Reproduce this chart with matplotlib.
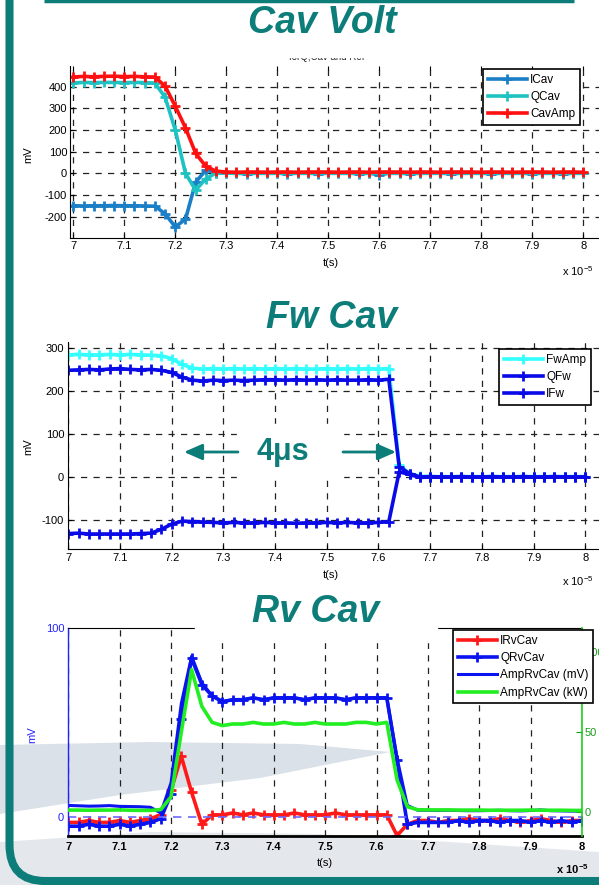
import matplotlib
matplotlib.use('Agg')
import matplotlib.pyplot as plt
from matplotlib.patches import Rectangle, Polygon, PathPatch
from matplotlib.path import Path

plt.rcParams['font.family'] = ['Liberation Sans', 'DejaVu Sans']
plt.rcParams['axes.unicode_minus'] = False
plt.rcParams['mathtext.fontset'] = 'custom'
plt.rcParams['mathtext.rm'] = 'Liberation Sans'
plt.rcParams['mathtext.bf'] = 'Liberation Sans:bold'

# time axis (x 1e-5 s)
t = [7.00, 7.02, 7.04, 7.06, 7.08, 7.10, 7.12, 7.14, 7.16, 7.18,
     7.20, 7.22, 7.24, 7.26, 7.28, 7.30, 7.32, 7.34, 7.36, 7.38,
     7.40, 7.42, 7.44, 7.46, 7.48, 7.50, 7.52, 7.54, 7.56, 7.58,
     7.60, 7.62, 7.64, 7.66, 7.68, 7.70, 7.72, 7.74, 7.76, 7.78,
     7.80, 7.82, 7.84, 7.86, 7.88, 7.90, 7.92, 7.94, 7.96, 7.98,
     8.00]

# Cav Volt
cav_amp = [445, 448, 446, 448, 449, 447, 448, 446, 445, 403,
           310, 210, 92, 32, 10, 6, 5, 6, 6, 5,
           6, 6, 5, 6, 6, 6, 5, 6, 6, 5,
           6, 6, 6, 5, 6, 6, 5, 6, 6, 6,
           5, 6, 6, 5, 6, 6, 6, 5, 6, 6,
           5]
q_cav = [418, 420, 419, 420, 420, 419, 420, 419, 417, 352,
         200, 0, -78, -25, 2, 1, 0, 1, 1, 0,
         1, 0, 1, 1, 0, 1, 1, 0, 1, 0,
         1, 1, 0, 1, 0, 1, 1, 0, 1, 1,
         0, 1, 1, 0, 1, 0, 1, 1, 0, 1,
         1]
i_cav = [-150, -151, -150, -150, -149, -150, -150, -151, -152, -187,
         -248, -212, -41, 15, 3, 1, 0, -1, 0, 0,
         0, -1, 0, 0, -1, 0, 0, 0, -1, 0,
         -6, 0, 0, -1, 0, 0, 0, -1, 0, 0,
         0, -1, 0, 0, 0, -1, 0, 0, -1, 0,
         0]

# Fw Cav
fw_amp = [285, 286, 285, 285, 286, 285, 286, 285, 284, 283,
          276, 263, 254, 252, 253, 252, 253, 252, 253, 252,
          253, 252, 253, 252, 252, 253, 252, 253, 252, 253,
          252, 253, 28, 8, 2, 1, 1, 1, 1, 1,
          1, 1, 1, 1, 1, 1, 1, 1, 1, 1,
          1]
q_fw = [249, 250, 251, 250, 252, 253, 251, 250, 251, 249,
        244, 233, 226, 224, 226, 225, 226, 225, 226, 227,
        227, 226, 227, 226, 227, 226, 227, 226, 226, 227,
        226, 228, 24, 8, 0, 1, 0, 0, 1, 0,
        0, 1, 0, 0, 1, 0, 0, 1, 0, 0,
        0]
i_fw = [-132, -131, -133, -133, -133, -133, -133, -132, -131, -122,
        -110, -103, -104, -105, -106, -107, -106, -107, -107, -106,
        -107, -107, -108, -107, -107, -106, -107, -106, -107, -107,
        -106, -104, 12, 6, -1, 0, 0, 0, 0, 0,
        0, 0, 0, 0, 0, 0, 0, 0, 0, 0,
        0]

# Rv Cav
i_rv = [-3, -3, -2, -3, -3, -2, -3, -2, -1, 1,
        14, 32, 13, -4, 1, 1, 2, 1, 2, 1,
        1, 1, 2, 1, 1, 1, 2, 1, 1, 1,
        1, 1, -10, -4, -2, -2, -3, -2, -2, -1,
        -2, -2, -1, -2, -3, -2, -1, -2, -3, -2,
        -2]
q_rv = [-5, -5, -4, -5, -5, -4, -5, -4, -3, -1,
        12, 52, 84, 70, 64, 61, 62, 62, 63, 62,
        63, 63, 63, 62, 63, 63, 63, 62, 63, 63,
        63, 63, 30, -4, -3, -3, -3, -3, -2, -3,
        -2, -2, -3, -2, -2, -3, -2, -3, -2, -3,
        -2]
amp_rv_mv = [6, 5.8, 5.6, 5.7, 5.9, 5.5, 5.4, 5.3, 5, 2,
             18, 60, 85, 71, 64, 61, 62, 62, 63, 62,
             63, 63, 63, 62, 63, 63, 63, 62, 63, 63,
             63, 63, 31, 6, 3.5, 3.4, 3.3, 3.4, 3.3, 3.2,
             3.2, 3.3, 3.4, 3.2, 3.1, 3.3, 3.6, 3.2, 3.1, 3.0,
             3.0]
amp_rv_kw = [1.2, 1.2, 1.1, 1.2, 1.2, 1.3, 1.1, 1.0, 1.0, 1.5,
             9.5, 50, 89, 66, 56, 54, 55, 55, 56, 55,
             55, 56, 55, 55, 56, 55, 55, 55, 56, 56,
             55, 56, 20, 3.3, 1.4, 1.3, 1.3, 1.3, 1.2, 1.2,
             1.2, 1.1, 1.1, 1.1, 1.1, 1.2, 1.1, 1.1, 1.1, 1.0,
             1.0]

xticks = [7, 7.1, 7.2, 7.3, 7.4, 7.5, 7.6, 7.7, 7.8, 7.9, 8]
xticklabels = ['7', '7.1', '7.2', '7.3', '7.4', '7.5', '7.6', '7.7', '7.8', '7.9', '8']

W, H = 599, 885
teal = '#0c7d78'
fig = plt.figure(figsize=(W / 100, H / 100), dpi=100)


def ax_at(l, t_, r, b, **kw):
    return fig.add_axes([l / W, 1 - b / H, (r - l) / W, (b - t_) / H], **kw)


def pix(ax):
    ax.set_xlim(0, W)
    ax.set_ylim(H, 0)
    ax.axis('off')


# background shading
bg = ax_at(0, 0, W, H, zorder=-5)
pix(bg)
bg.add_patch(Polygon([(0, 745), (150, 742), (300, 744), (390, 752), (260, 778),
                      (120, 795), (0, 814)], closed=True, color='#dbe1e8', lw=0))
bg.add_patch(Polygon([(0, 842), (150, 832), (320, 834), (450, 842), (599, 852),
                      (599, 885), (0, 885)], closed=True, color='#e4e8ed', lw=0))

grid_kw = dict(color='#222222', linestyle=(0, (5, 5)), linewidth=0.9)
lw = 2.6
leg_kw = dict(loc='upper left', bbox_transform=fig.transFigure, fontsize=8.5,
              fancybox=False, edgecolor='black', framealpha=1, borderaxespad=0,
              numpoints=1, handlelength=3.3, handletextpad=0.3, borderpad=0.4,
              labelspacing=0.45)


def style_axes(ax):
    ax.patch.set_alpha(0)
    ax.tick_params(direction='in', length=3, labelsize=8, pad=2)
    ax.grid(True, **grid_kw)


# ---------- Cav Volt ----------
ax1 = ax_at(70, 66, 599, 238)
style_axes(ax1)
ax1.plot(t, i_cav, '+-', color='#1a7fc6', lw=lw, ms=7, mew=2, label='ICav')
ax1.plot(t, q_cav, '+-', color='#1fc2c2', lw=lw, ms=7, mew=2, label='QCav')
ax1.plot(t, cav_amp, '+-', color='#ff1010', lw=lw, ms=7, mew=2, label='CavAmp')
ax1.set_xlim(6.9935, 8.031)
ax1.set_ylim(-299, 496)
ax1.set_xticks(xticks)
ax1.set_xticklabels(xticklabels)
ax1.set_yticks([-200, -100, 0, 100, 200, 300, 400])
ax1.spines['top'].set_visible(False)
ax1.spines['right'].set_visible(False)
ax1.tick_params(top=True)
leg = ax1.legend(bbox_to_anchor=(483 / W, 1 - 69 / H), **leg_kw)
leg.get_frame().set_linewidth(1.2)

# ---------- Fw Cav ----------
ax2 = ax_at(68.3, 342, 599, 549)
style_axes(ax2)
ax2.plot(t, fw_amp, '+-', color='#33ffff', lw=lw, ms=7, mew=2, label='FwAmp')
ax2.plot(t, q_fw, '+-', color='#0a0ae8', lw=lw, ms=7, mew=2, label='QFw')
ax2.plot(t, i_fw, '+-', color='#0a0ae8', lw=lw, ms=7, mew=2, label='IFw')
ax2.set_xlim(7.0, 8.0265)
ax2.set_ylim(-168, 315)
ax2.set_xticks(xticks)
ax2.set_xticklabels(xticklabels)
ax2.set_yticks([-100, 0, 100, 200, 300])
ax2.spines['top'].set_visible(False)
ax2.spines['right'].set_visible(False)
ax2.tick_params(pad=3)
leg = ax2.legend(bbox_to_anchor=(499 / W, 1 - 349 / H), **leg_kw)
leg.get_frame().set_linewidth(1.2)

# ---------- Rv Cav ----------
ax3 = ax_at(68.3, 628, 582, 836)
ax3.patch.set_alpha(0)
ax3.plot(t, i_rv, '+-', color='#ff1a1a', lw=lw, ms=7, mew=2, label='IRvCav')
ax3.plot(t, q_rv, '+-', color='#0a14f0', lw=lw, ms=7, mew=2, label='QRvCav')
ax3.plot(t, amp_rv_mv, '-', color='#0a14f0', lw=2.2, label='AmpRvCav (mV)')
ax3.axhline(0, color='#6a6aff', lw=1.2, linestyle=(0, (5, 4)))
ax3.set_xlim(7.0, 8.0)
ax3.set_ylim(-10.2, 100)
ax3.set_xticks(xticks)
ax3.set_xticklabels(xticklabels, fontweight='bold')
ax3.set_yticks([0, 100])
ax3.xaxis.grid(True, **grid_kw)
ax3.tick_params(axis='x', direction='in', length=0, labelsize=8, pad=4)
ax3.tick_params(axis='y', direction='in', length=0, labelsize=8, pad=3, colors='#2222ff')
ax3.spines['left'].set_color('#2222ff')
ax3.spines['left'].set_linewidth(1.0)
ax3.spines['bottom'].set_linewidth(2.0)
ax3.spines['right'].set_visible(False)

ax3b = ax3.twinx()
ax3b.plot(t, amp_rv_kw, '-', color='#22ee22', lw=2.6, label='AmpRvCav (kW)')
ax3b.set_ylim(-15, 115)
ax3b.set_yticks([0, 50, 100])
ax3b.tick_params(axis='y', direction='in', length=4, labelsize=8, pad=2,
                 colors='#1a9e1a')
ax3b.spines['right'].set_color('#22cc22')
ax3b.spines['right'].set_linewidth(1.2)
for s in ['left', 'top', 'bottom']:
    ax3b.spines[s].set_visible(False)
h1, l1 = ax3.get_legend_handles_labels()
h2, l2 = ax3b.get_legend_handles_labels()
leg = ax3b.legend(h1 + h2, l1 + l2, bbox_to_anchor=(453 / W, 1 - 630 / H), **leg_kw)
leg.get_frame().set_linewidth(1.2)

# ---------- overlay: titles, labels, frame ----------
fg = ax_at(0, 0, W, H, zorder=5)
pix(fg)
fg.patch.set_alpha(0)

# matlab axes title, half hidden behind the slide title box
fg.text(327, 57.5, 'IorQ,Cav and Ref', fontsize=7, ha='center', va='center',
        color='#222222', zorder=1)
fg.add_patch(Rectangle((235, 3), 190, 53.5, color='white', zorder=2))
title_kw = dict(fontsize=27, fontweight='bold', fontstyle='italic', color=teal,
                ha='center', va='center', zorder=3)
fg.text(322, 23, 'Cav Volt', **title_kw)
fg.text(332, 318, 'Fw Cav', **title_kw)
fg.add_patch(Rectangle((195, 596), 242, 46, color='white', zorder=2))
fg.text(316, 612, 'Rv Cav', **title_kw)

# 4us annotation
fg.add_patch(Rectangle((237, 424), 106, 54, color='white', zorder=2))
fg.text(283, 452, '4\u03bcs', fontsize=22, fontweight='bold', color=teal,
        ha='center', va='center', zorder=3)
arrow_kw = dict(arrowstyle='-|>,head_length=0.5,head_width=0.22', color=teal, lw=2,
                mutation_scale=22, shrinkA=0, shrinkB=0)
fg.annotate('', xy=(184, 452), xytext=(238, 452), arrowprops=arrow_kw, zorder=3)
fg.annotate('', xy=(396, 452), xytext=(343, 452), arrowprops=arrow_kw, zorder=3)

# axis labels
fg.text(331, 263, 't(s)', fontsize=8, ha='center', va='center')
fg.text(331, 575, 't(s)', fontsize=8, ha='center', va='center')
fg.text(325, 863, 't(s)', fontsize=8, ha='center', va='center')
fg.text(28, 155, 'mV', fontsize=8, rotation=90, ha='center', va='center')
fg.text(28, 447, 'mV', fontsize=8, rotation=90, ha='center', va='center')
fg.text(32, 735, 'mV', fontsize=8, rotation=90, ha='center', va='center', color='#2222ff')
fg.text(578, 271, r'x 10$^{-5}$', fontsize=8, ha='center', va='center')
fg.text(578, 581, r'x 10$^{-5}$', fontsize=8, ha='center', va='center')
fg.text(572, 869, r'$\mathbf{x\ 10^{-5}}$', fontsize=8, ha='center', va='center')

# teal frame
fg.plot([44, 574], [1, 1], color=teal, lw=2.5, solid_capstyle='butt')
frame = Path([(9.5, -5), (9.5, 845), (9.5, 881), (45, 881), (620, 881)],
             [Path.MOVETO, Path.LINETO, Path.CURVE3, Path.CURVE3, Path.LINETO])
fg.add_patch(PathPatch(frame, fill=False, edgecolor=teal, lw=5.8))

fig.savefig('out.png', dpi=100)
